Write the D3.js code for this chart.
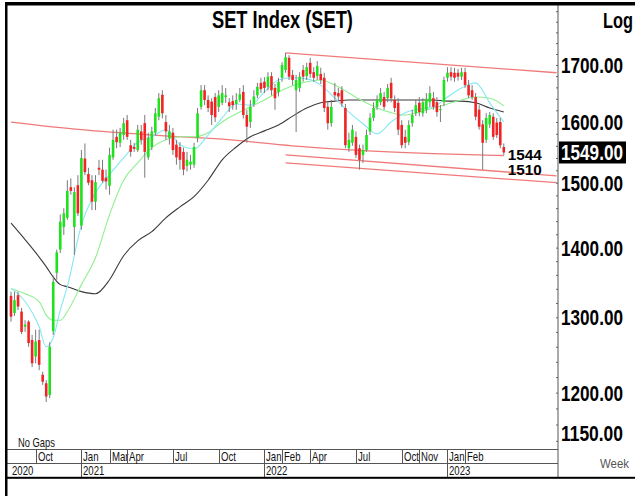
<!DOCTYPE html>
<html>
<head>
<meta charset="utf-8">
<script src="https://cdn.jsdelivr.net/npm/d3@7"></script>
<style>
  body { margin: 0; background: #fff; }
  svg text { font-family: "Liberation Sans", Arial, sans-serif; }
</style>
</head>
<body>
<svg id="chart" width="635" height="496"></svg>
<script>
// weekly bars of the SET index, first bar is the week of 17 Aug 2020
const firstWeek = "2020-08-17";
const opens = [1330,1306,1331,1308,1287,1294,1269,1247,1269,1223,1212,1197,1281,1363,1397,1431,1445,1493,1431,1496,
  1433,1539,1514,1504,1470,1524,1521,1508,1495,1541,1575,1565,1578,1603,1561,1558,1553,1584,1598,1541,
  1558,1582,1609,1647,1600,1573,1582,1562,1558,1550,1527,1529,1529,1573,1626,1655,1638,1635,1643,1626,
  1633,1643,1634,1636,1631,1638,1652,1612,1600,1631,1646,1668,1670,1661,1680,1659,1652,1677,1691,1713,
  1682,1655,1659,1691,1680,1704,1687,1680,1684,1677,1626,1598,1652,1650,1655,1624,1556,1565,1575,1556,
  1545,1553,1584,1607,1626,1634,1643,1641,1668,1638,1633,1595,1575,1566,1598,1615,1633,1615,1621,1634,
  1641,1634,1621,1634,1677,1687,1686,1686,1679,1687,1664,1655,1643,1621,1596,1570,1596,1609,1599,1600,1558];
const highs = [1336,1336,1336,1313,1296,1296,1276,1283,1283,1227,1216,1266,1359,1397,1450,1460,1504,1507,1493,1512,
  1553,1564,1524,1512,1512,1537,1537,1521,1557,1587,1587,1590,1607,1612,1570,1565,1595,1595,1612,1582,
  1592,1624,1650,1655,1612,1595,1590,1570,1566,1557,1550,1545,1565,1624,1664,1664,1646,1641,1650,1655,
  1664,1659,1641,1646,1650,1659,1664,1621,1638,1655,1668,1677,1678,1687,1687,1666,1677,1705,1722,1718,
  1691,1682,1687,1700,1704,1713,1696,1707,1695,1686,1634,1638,1668,1659,1662,1631,1582,1595,1584,1562,
  1562,1587,1615,1634,1646,1659,1652,1666,1677,1646,1641,1603,1587,1603,1621,1638,1643,1641,1650,1662,
  1652,1643,1629,1679,1696,1696,1695,1693,1695,1695,1673,1664,1650,1629,1603,1615,1617,1615,1607,1607,1564];
const lows = [1294,1302,1310,1277,1280,1260,1233,1238,1229,1210,1188,1193,1276,1353,1392,1419,1442,1481,1389,1448,
  1427,1512,1496,1457,1457,1512,1500,1489,1481,1537,1556,1558,1570,1570,1542,1550,1550,1562,1508,1537,
  1553,1577,1603,1606,1570,1562,1545,1529,1521,1512,1518,1521,1524,1566,1621,1629,1617,1595,1600,1617,
  1629,1633,1617,1621,1621,1634,1606,1565,1590,1626,1641,1650,1650,1655,1646,1621,1644,1670,1686,1673,
  1664,1583,1652,1670,1673,1677,1670,1673,1666,1617,1587,1592,1638,1638,1626,1556,1550,1560,1540,1521,
  1532,1550,1578,1602,1621,1629,1621,1634,1634,1617,1578,1556,1556,1561,1592,1610,1610,1609,1615,1626,
  1621,1609,1600,1627,1670,1672,1670,1672,1673,1659,1641,1638,1603,1587,1521,1565,1590,1570,1573,1556,1545];
const closes = [1301,1324,1315,1280,1290,1265,1238,1267,1236,1214,1195,1260,1350,1393,1439,1452,1487,1487,1485,1452,
  1540,1517,1500,1470,1501,1521,1503,1502,1545,1570,1566,1582,1598,1575,1550,1555,1587,1570,1550,1573,
  1584,1615,1641,1615,1584,1584,1553,1541,1537,1521,1537,1534,1558,1615,1655,1638,1624,1612,1608,1646,
  1650,1646,1627,1629,1638,1648,1612,1592,1626,1644,1661,1657,1659,1679,1655,1641,1670,1700,1714,1679,
  1673,1673,1679,1679,1696,1684,1677,1698,1673,1624,1598,1626,1646,1644,1632,1561,1570,1587,1545,1537,
  1553,1578,1607,1624,1638,1650,1626,1659,1641,1624,1587,1561,1565,1595,1612,1629,1617,1634,1640,1650,
  1626,1617,1622,1673,1686,1679,1677,1679,1687,1664,1646,1643,1609,1592,1565,1607,1612,1575,1578,1561,1549];

// moving averages at these bar numbers
const maBars = [0,4,8,10,12,14,16,20,24,28,32,36,40,44,48,52,56,60,64,68,72,76,80,84,88,92,96,100,104,108,112,116,120,124,128,132,136,140];
const maShort = [1341,1322,1287,1260,1272,1310,1343,1434,1484,1513,1540,1566,1575,1587,1562,1555,1578,1607,1631,1629,
  1652,1673,1677,1675,1664,1641,1617,1597,1580,1600,1616,1622,1626,1643,1659,1668,1633,1600];
const maMid = [1340,1333,1322,1303,1296,1296,1308,1346,1385,1450,1504,1532,1557,1570,1575,1575,1582,1600,1614,1626,
  1638,1652,1663,1670,1673,1664,1650,1636,1624,1616,1612,1617,1624,1631,1638,1643,1641,1628];
const maLong = [1437,1412,1386,1372,1357,1346,1343,1336,1333,1353,1388,1410,1424,1445,1462,1478,1504,1537,1558,1575,
  1585,1595,1610,1624,1633,1636,1638,1638,1638,1638,1638,1638,1638,1636,1636,1633,1624,1617];
const slowBars = [0,20,40,60,80,100,120,140];
const maSlow = [1600,1587,1578,1571,1560,1552,1547,1544];

// channel lines, start and end week
const channelDates = ["2022-02-14","2023-08-07"];
const channelTop = [1722,1686];
const channelMid = [1545,1511];
const channelLow = [1532,1500];

const levelLabels = ["1544","1510"];
const priceTicks = [1150,1200,1300,1400,1500,1600,1700];
const monthTicks = ["2020-10","2021-01","2021-03","2021-04","2021-07","2021-10","2022-01","2022-02","2022-04",
  "2022-07","2022-10","2022-11","2023-01","2023-02"];
const yearTicks = ["2021","2022","2023"];

const plot = {left: 8, right: 558, top: 6, bottom: 449};
const weekMs = 7 * 864e5;

function parse() {
  let start = new Date(firstWeek + "T00:00:00Z");
  return opens.map((o, i) => ({
    date: new Date(start.getTime() + i * weekMs),
    open: o, high: highs[i], low: lows[i], close: closes[i]
  }));
}

function make_scales(bars) {
  let t0 = bars[0].date.getTime();
  return {
    x: d3.scaleUtc()
      .domain([new Date(t0 - 0.852 * weekMs), new Date(t0 + 155.4 * weekMs)])
      .range([plot.left, plot.right]),
    y: d3.scaleLog()
      .domain([1130.2, 1810])
      .range([plot.bottom, plot.top])
  };
}

// squeeze a text horizontally, like the narrow face of the original
function narrow(sel, x, y, sx) {
  sel.attr("x", 0).attr("y", 0)
    .attr("transform", `translate(${x},${y}) scale(${sx},1)`);
}
// squeeze a text to a given width
function fit(sel, x, y, width) {
  sel.each(function () {
    let w = this.getComputedTextLength();
    d3.select(this).attr("x", 0).attr("y", 0)
      .attr("transform", `translate(${x},${y}) scale(${width / w},1)`);
  });
}

function draw_lines(svg, bars, scales) {
  let g = svg.append("g").attr("clip-path", "url(#clip)");
  let line = (idx, vals) => d3.line()
    .x((d, i) => scales.x(bars[idx[i]].date))
    .y(d => scales.y(d))
    .curve(d3.curveMonotoneX)(vals);

  g.append("path").attr("d", line(slowBars, maSlow))
    .attr("fill", "none").attr("stroke", "#f07a7a").attr("stroke-width", 1.3);

  let cd = channelDates.map(s => new Date(s + "T00:00:00Z"));
  [channelTop, channelMid, channelLow].forEach(vals => {
    g.append("line")
      .attr("x1", scales.x(cd[0])).attr("y1", scales.y(vals[0]))
      .attr("x2", scales.x(cd[1])).attr("y2", scales.y(vals[1]))
      .attr("stroke", "#f07a7a").attr("stroke-width", 1.3);
  });

  g.append("path").attr("d", line(maBars, maLong))
    .attr("fill", "none").attr("stroke", "#3a3a3a").attr("stroke-width", 1.1);
  g.append("path").attr("d", line(maBars, maMid))
    .attr("fill", "none").attr("stroke", "#8ff08f").attr("stroke-width", 1.1);
  g.append("path").attr("d", line(maBars, maShort))
    .attr("fill", "none").attr("stroke", "#86e8f2").attr("stroke-width", 1.1);
}

function draw_candles(svg, bars, scales) {
  let g = svg.append("g").attr("clip-path", "url(#clip)");
  let w = 2.6;
  g.selectAll("line.wick")
    .data(bars).enter()
    .append("line")
    .attr("class", "wick")
    .attr("x1", d => scales.x(d.date)).attr("x2", d => scales.x(d.date))
    .attr("y1", d => scales.y(d.high)).attr("y2", d => scales.y(d.low))
    .attr("stroke", "#7a7a7a").attr("stroke-width", 1);

  g.selectAll("rect.body")
    .data(bars).enter()
    .append("rect")
    .attr("class", "body")
    .attr("x", d => scales.x(d.date) - w / 2)
    .attr("width", w)
    .attr("y", d => scales.y(Math.max(d.open, d.close)))
    .attr("height", d => Math.max(1, Math.abs(scales.y(d.open) - scales.y(d.close))))
    .attr("fill", d => d.close >= d.open ? "#1ee21e" : "#f02424");
}

function draw_axes(svg, bars, scales) {
  // right price axis
  let minor = d3.range(1140, 1811, 20);
  svg.append("g")
    .attr("transform", `translate(${plot.right},0)`)
    .call(d3.axisLeft(scales.y).tickValues(minor).tickSize(2).tickFormat(""))
    .call(g => g.select(".domain").remove())
    .selectAll("line").attr("stroke", "#666");

  svg.append("line")
    .attr("x1", plot.right).attr("x2", plot.right)
    .attr("y1", 4).attr("y2", 477)
    .attr("stroke", "#555").attr("stroke-width", 1);

  svg.append("g").selectAll("text")
    .data(priceTicks).enter()
    .append("text")
    .attr("font-size", 22).attr("font-weight", "bold")
    .text(d => d3.format(".2f")(d))
    .each(function (d) { fit(d3.select(this), 561, scales.y(d) + 8, 62); });

  // last close box
  let last = bars[bars.length - 1];
  let ly = scales.y(last.close);
  svg.append("rect").attr("x", 559).attr("y", ly - 11).attr("width", 67).attr("height", 22).attr("fill", "#000");
  svg.append("text")
    .attr("font-size", 22).attr("font-weight", "bold").attr("fill", "#fff")
    .text(d3.format(".2f")(last.close))
    .call(s => fit(s, 561, ly + 8, 62));

  // level labels next to the last bar
  let lx = scales.x(last.date) + 4;
  let offs = [4, -1];
  svg.append("g").selectAll("text")
    .data(levelLabels).enter()
    .append("text")
    .attr("font-size", 14).attr("font-weight", "bold")
    .text(d => d)
    .each(function (d, i) { fit(d3.select(this), lx, scales.y(+d) + offs[i], 34); });

  // bottom date rows
  svg.append("line").attr("x1", 7).attr("x2", plot.right).attr("y1", 449.5).attr("y2", 449.5)
    .attr("stroke", "#555");
  svg.append("line").attr("x1", 7).attr("x2", plot.right).attr("y1", 463.5).attr("y2", 463.5)
    .attr("stroke", "#555");

  let firstBarIn = s => bars.find(b => b.date >= new Date(s + (s.length == 4 ? "-01-01" : "-01") + "T00:00:00Z"));
  let fmtMonth = d3.utcFormat("%b");
  let months = svg.append("g").selectAll("g")
    .data(monthTicks).enter()
    .append("g")
    .attr("transform", d => `translate(${Math.round(scales.x(firstBarIn(d).date)) + 0.5},0)`);
  months.append("line").attr("y1", 449.5).attr("y2", 463.5).attr("stroke", "#555");
  months.append("text")
    .attr("font-size", 12).attr("fill", "#111")
    .text(d => fmtMonth(new Date(d + "-01T00:00:00Z")))
    .call(s => narrow(s, 1.5, 461, 0.8));

  let years = svg.append("g").selectAll("g")
    .data(yearTicks).enter()
    .append("g")
    .attr("transform", d => `translate(${Math.round(scales.x(firstBarIn(d).date)) + 0.5},0)`);
  years.append("line").attr("y1", 463.5).attr("y2", 477).attr("stroke", "#555");
  years.append("text")
    .attr("font-size", 12).attr("fill", "#111")
    .text(d => d)
    .call(s => narrow(s, 1.5, 475, 0.8));
  svg.append("text").attr("font-size", 12).attr("fill", "#111")
    .text(d3.utcFormat("%Y")(bars[0].date))
    .call(s => narrow(s, 12, 475, 0.8));
}

function draw_frame(svg) {
  svg.append("rect").attr("x", 5).attr("y", 2).attr("width", 630).attr("height", 3.5).attr("fill", "#000");
  svg.append("rect").attr("x", 5).attr("y", 2).attr("width", 2.5).attr("height", 494).attr("fill", "#000");
  svg.append("rect").attr("x", 5).attr("y", 476.8).attr("width", 630).attr("height", 2).attr("fill", "#000");

  svg.append("text")
    .attr("font-size", 23).attr("font-weight", "bold")
    .text("SET Index (SET)")
    .call(s => fit(s, 212, 28, 141));
  svg.append("text")
    .attr("font-size", 22).attr("font-weight", "bold")
    .text("Log")
    .call(s => fit(s, 603, 28, 30));
  svg.append("text")
    .attr("font-size", 12).attr("fill", "#111")
    .text("No  Gaps")
    .call(s => fit(s, 18, 447, 37));
  svg.append("text")
    .attr("font-family", "Liberation Mono").attr("font-size", 12.5).attr("fill", "#555")
    .text("Week")
    .call(s => fit(s, 600, 468, 29));
}

function visualize() {
  let svg = d3.select("#chart");
  svg.append("defs").append("clipPath").attr("id", "clip")
    .append("rect")
    .attr("x", plot.left).attr("y", plot.top)
    .attr("width", plot.right - plot.left).attr("height", plot.bottom - plot.top);

  let bars = parse();
  let scales = make_scales(bars);
  draw_lines(svg, bars, scales);
  draw_candles(svg, bars, scales);
  draw_axes(svg, bars, scales);
  draw_frame(svg);
}

visualize();
</script>
</body>
</html>
